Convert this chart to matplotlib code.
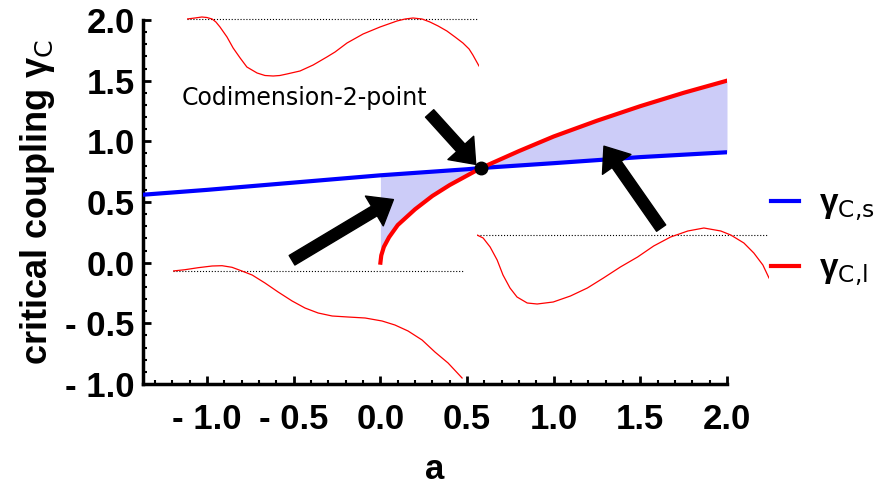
import numpy as np
import matplotlib
matplotlib.use("Agg")
import matplotlib.pyplot as plt

# stability boundary (blue) and instability boundary (red)
a_s = [-1.37, -1.0, -0.5, 0.0, 0.5, 0.58, 1.0, 1.5, 2.0]
gamma_s = [0.56, 0.60, 0.66, 0.72, 0.77, 0.78, 0.82, 0.87, 0.91]

a_l = [0.0, 0.005, 0.02, 0.05, 0.1, 0.2, 0.3, 0.4, 0.58, 0.8, 1.0, 1.25, 1.5, 1.75, 2.0]
gamma_l = [0.0, 0.06, 0.13, 0.21, 0.31, 0.44, 0.55, 0.64, 0.78, 0.92, 1.04, 1.17, 1.29, 1.40, 1.50]

codim_a, codim_gamma = 0.58, 0.78

tick_vals = [-1.0, -0.5, 0.0, 0.5, 1.0, 1.5, 2.0]
tick_labels = ['- 1.0', '- 0.5', '0.0', '0.5', '1.0', '1.5', '2.0']

# small profile sketches (x in 0..1, y relative to dotted baseline)
prof1_x = [0, 0.027, 0.051, 0.068, 0.086, 0.099, 0.113, 0.137, 0.158, 0.182, 0.205,
           0.240, 0.267, 0.295, 0.318, 0.342, 0.387, 0.432, 0.479, 0.507, 0.548,
           0.603, 0.661, 0.719, 0.747, 0.774, 0.805, 0.832, 0.860, 0.890, 0.918,
           0.945, 0.966, 0.979, 1.0]
prof1_y = [0, 0.01, 0.02, 0.015, 0, -0.03, -0.08, -0.18, -0.29, -0.39, -0.48,
           -0.54, -0.565, -0.57, -0.565, -0.55, -0.52, -0.46, -0.38, -0.33, -0.24,
           -0.15, -0.08, -0.02, 0, 0.01, 0, -0.03, -0.07, -0.12, -0.18,
           -0.24, -0.30, -0.36, -0.47]

prof2_x = [0, 0.041, 0.086, 0.134, 0.168, 0.202, 0.236, 0.271, 0.315, 0.360, 0.408,
           0.452, 0.497, 0.545, 0.599, 0.658, 0.716, 0.760, 0.805, 0.853, 0.897,
           0.942, 0.990]
prof2_y = [0, 0.013, 0.033, 0.05, 0.053, 0.037, 0, -0.04, -0.12, -0.21, -0.30,
           -0.37, -0.42, -0.45, -0.46, -0.47, -0.50, -0.54, -0.60, -0.69, -0.81,
           -0.92, -1.07]

prof3_x = [0, 0.021, 0.045, 0.069, 0.089, 0.113, 0.137, 0.172, 0.206, 0.261, 0.320,
           0.378, 0.433, 0.491, 0.550, 0.605, 0.663, 0.722, 0.777, 0.835, 0.869,
           0.914, 0.948, 0.979, 1.0]
prof3_y = [0, -0.03, -0.12, -0.25, -0.40, -0.53, -0.62, -0.68, -0.69, -0.67, -0.61,
           -0.53, -0.43, -0.32, -0.22, -0.11, -0.02, 0.04, 0.07, 0.04, 0,
           -0.08, -0.18, -0.30, -0.43]

W, H = 883, 491
fig = plt.figure(figsize=(W / 100, H / 100), dpi=100)
ax = fig.add_axes([143 / W, (H - 384) / H, (727 - 143) / W, (384 - 20) / H])

gs_on_l = np.interp(a_l, a_s, gamma_s)
ax.fill_between(a_l, gamma_l, gs_on_l, color='#ccccf8', lw=0, zorder=1)
ax.plot(a_s, gamma_s, color='#0000ff', lw=3, zorder=3, label='γ$_{\\mathrm{C{,}s}}$')
ax.plot(a_l, gamma_l, color='#ff0000', lw=3, zorder=4, label='γ$_{\\mathrm{C{,}l}}$')
ax.plot([codim_a], [codim_gamma], 'o', color='black', ms=9, zorder=5)

ax.text(-0.44, 1.36, 'Codimension-2-point', fontsize=17, ha='center', va='center',
        family='DejaVu Sans')

arrow_kw = dict(facecolor='black', edgecolor='black', width=8, headwidth=25,
                headlength=16, shrink=0)
ax.annotate('', xy=(0.075, 0.52), xytext=(-0.51, 0.02), arrowprops=arrow_kw)
ax.annotate('', xy=(0.55, 0.81), xytext=(0.284, 1.23), arrowprops=arrow_kw)
ax.annotate('', xy=(1.29, 0.96), xytext=(1.62, 0.285), arrowprops=arrow_kw)

ax.set_xlim(-1.37, 2.0)
ax.set_ylim(-1.0, 2.0)
ax.set_xticks(tick_vals)
ax.set_xticklabels(tick_labels)
ax.set_yticks(tick_vals)
ax.set_yticklabels(tick_labels)
ax.set_xticks(np.arange(-1.3, 2.0, 0.1), minor=True)
ax.set_yticks(np.arange(-0.9, 2.0, 0.1), minor=True)
for lab in ax.get_xticklabels() + ax.get_yticklabels():
    lab.set_family('Liberation Sans')
    lab.set_fontweight('bold')
    lab.set_fontsize(25)
ax.tick_params(which='major', direction='in', length=6, width=2)
ax.tick_params(which='minor', direction='in', length=3, width=1.5)
ax.tick_params(axis='x', pad=14)
ax.tick_params(axis='y', pad=6)
for s in ['top', 'right']:
    ax.spines[s].set_visible(False)
for s in ['left', 'bottom']:
    ax.spines[s].set_linewidth(2.5)

ax.set_xlabel('a', fontsize=25, fontweight='bold', family='Liberation Sans', labelpad=12)
ax.set_ylabel('critical coupling γ$_{\\mathrm{C}}$', fontsize=26, fontweight='bold',
              family='Liberation Sans', labelpad=6)

leg = ax.legend(loc='center left', bbox_to_anchor=(1.075, 0.4), frameon=False,
                handlelength=0.85, handletextpad=0.6, labelspacing=0.9,
                borderpad=0, borderaxespad=0,
                prop=dict(family='Liberation Sans', weight='bold', size=24))

# inset profiles
insets = [(187, 19, prof1_x, prof1_y), (173, 271, prof2_x, prof2_y),
          (477, 235, prof3_x, prof3_y)]
for x0, base, px, py in insets:
    iax = fig.add_axes([x0 / W, (H - (base + 120)) / H, 292 / W, 130 / H])
    iax.plot([0, 1], [0, 0], ls=':', color='black', lw=0.8)
    iax.plot(px, py, color='#ff0000', lw=0.9)
    iax.set_xlim(0, 1)
    iax.set_ylim(-1.2, 0.1)
    iax.axis('off')

fig.savefig('out.png', dpi=100)
